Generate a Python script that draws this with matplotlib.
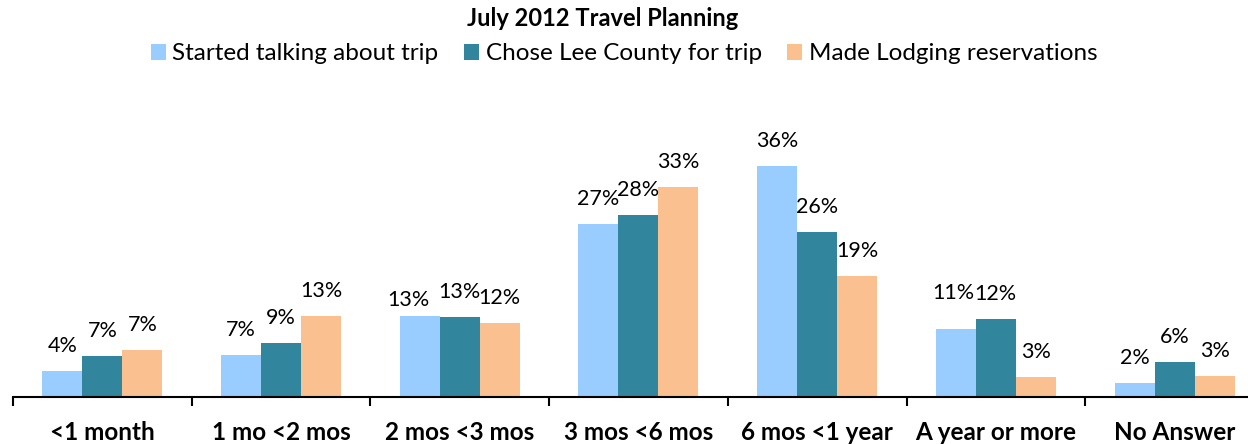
import matplotlib
matplotlib.use("Agg")
import matplotlib.pyplot as plt
from matplotlib.patches import Patch
import numpy as np

plt.rcParams['font.family'] = ['Lato', 'DejaVu Sans']

categories = ["<1 month", "1 mo <2 mos", "2 mos <3 mos", "3 mos <6 mos",
              "6 mos <1 year", "A year or more", "No Answer"]
series_names = ["Started talking about trip", "Chose Lee County for trip",
                "Made Lodging reservations"]
started = [4.1, 6.6, 12.7, 26.9, 36.0, 10.6, 2.3]
chose = [6.5, 8.4, 12.5, 28.3, 25.8, 12.2, 5.5]
lodging = [7.3, 12.7, 11.5, 32.8, 18.9, 3.1, 3.3]
started_labels = ["4%", "7%", "13%", "27%", "36%", "11%", "2%"]
chose_labels = ["7%", "9%", "13%", "28%", "26%", "12%", "6%"]
lodging_labels = ["7%", "13%", "12%", "33%", "19%", "3%", "3%"]

colors = ["#99CCFF", "#31859C", "#FAC090"]

W, H = 1248, 444
fig = plt.figure(figsize=(W / 100, H / 100), dpi=100)
ax = fig.add_axes([13 / W, (H - 397.3) / H, 1250.9 / W, 257 / H])

x = np.arange(len(categories))
bw = 0.224
series = [started, chose, lodging]
labels = [started_labels, chose_labels, lodging_labels]
# manual nudges for a few labels (series index, category index) -> (dx px, dy px)
nudges = {(0, 2): (-11, -9), (0, 5): (-2, 11)}
for s, (vals, labs, col) in enumerate(zip(series, labels, colors)):
    xs = x + (s - 1) * bw
    ax.bar(xs, vals, width=bw, color=col, edgecolor='none', zorder=2)
    for i, (xi, v, lab) in enumerate(zip(xs, vals, labs)):
        dx, dy = nudges.get((s, i), (0, 0))
        ax.annotate(lab, xy=(xi, v), xytext=((0 + dx) * 0.72, (25 + dy) * 0.72),
                    textcoords='offset points', ha='center', va='center',
                    fontsize=15.5, color='black')

ax.set_xlim(-0.5, len(categories) - 0.5)
ax.set_ylim(0, 40)
for sp in ['top', 'right', 'left']:
    ax.spines[sp].set_visible(False)
ax.spines['bottom'].set_linewidth(1.5)
ax.set_yticks([])
ax.set_xticks(x)
ax.set_xticklabels(categories, fontsize=17.5, fontweight='bold')
ax.tick_params(axis='x', which='major', length=0, pad=31)
for t in ax.get_xticklabels():
    t.set_va('baseline')
ax.set_xticks(np.arange(-0.5, len(categories)), minor=True)
ax.tick_params(axis='x', which='minor', length=6.5, width=1.5, direction='out')

fig.text(603 / W, 1 - 19 / H, "July 2012 Travel Planning", ha='center', va='center',
         fontsize=17, fontweight='bold')
handles = [Patch(facecolor=c, edgecolor='none') for c in colors]
fig.legend(handles, series_names, loc='center', bbox_to_anchor=(624 / W, 1 - 54 / H),
           ncol=3, frameon=False, fontsize=17.5, handlelength=0.62, handleheight=0.62,
           handletextpad=0.27, columnspacing=1.05, borderpad=0, borderaxespad=0)

fig.savefig("out.png", dpi=100)
